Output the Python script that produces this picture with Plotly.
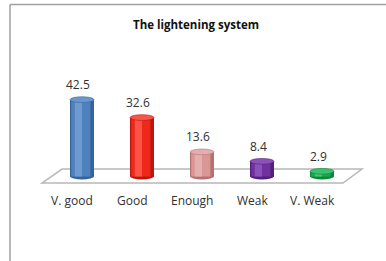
import plotly.graph_objects as go

categories = ["V. good", "Good", "Enough", "Weak", "V. Weak"]
values = [42.5, 32.6, 13.6, 8.4, 2.9]
title_text = "The lightening system"

main_colors = ["#4F81BD", "#F0281C", "#D99694", "#7030A0", "#1AAA4E"]
dark_colors = ["#36639A", "#B8180E", "#B27270", "#521F7A", "#0E863C"]
light_colors = ["#6E9AD0", "#FA5446", "#E4B0AF", "#8A52B8", "#40C474"]
top_colors = ["#6A96CE", "#F85448", "#E3AFAE", "#8A52B8", "#3CC070"]

W, H = 386, 261
L, R, T, B = 34, 16, 68, 70
xr = [-0.8, 4.8]
yr = [-8, 60]
pw, ph = W - L - R, H - T - B

def px_to_paper_x(px):
    return (px - L) / pw

def px_to_paper_y(py):
    return (H - B - py) / ph

fig = go.Figure()
idx = list(range(len(categories)))

# cylinder body: dark edge, main body, highlight
fig.add_trace(go.Bar(x=idx, y=values, width=0.4, marker=dict(color=dark_colors, line=dict(width=0)),
                     hoverinfo="skip", showlegend=False))
fig.add_trace(go.Bar(x=idx, y=values, width=0.32, offset=-0.18, marker=dict(color=main_colors, line=dict(width=0)),
                     hoverinfo="skip", showlegend=False))
fig.add_trace(go.Bar(x=idx, y=values, width=0.12, offset=-0.12, marker=dict(color=light_colors, line=dict(width=0)),
                     hoverinfo="skip", showlegend=False))

shapes = []
# frame (top and left lines only)
shapes.append(dict(type="line", xref="paper", yref="paper",
                   x0=px_to_paper_x(10), x1=px_to_paper_x(W + 2),
                   y0=px_to_paper_y(4.5), y1=px_to_paper_y(4.5),
                   line=dict(color="#A0A0A0", width=1.5)))
shapes.append(dict(type="line", xref="paper", yref="paper",
                   x0=px_to_paper_x(10), x1=px_to_paper_x(10),
                   y0=px_to_paper_y(4.5), y1=px_to_paper_y(H + 2),
                   line=dict(color="#A0A0A0", width=1.5)))
# floor
shapes.append(dict(type="path", xref="x", yref="y", layer="below",
                   path="M -0.667,-3.6 L -0.333,4.1 L 4.667,4.1 L 4.35,-3.6 Z",
                   fillcolor="#FFFFFF", line=dict(color="#B8B8B8", width=1.5)))
for i, v in enumerate(values):
    # bottom ellipse
    shapes.append(dict(type="circle", xref="x", yref="y", layer="below",
                       x0=i - 0.2, x1=i + 0.2, y0=-1.6, y1=1.6,
                       fillcolor=dark_colors[i], line=dict(width=0)))
    # top ellipse
    shapes.append(dict(type="circle", xref="x", yref="y", layer="above",
                       x0=i - 0.2, x1=i + 0.2, y0=v - 1.6, y1=v + 1.6,
                       fillcolor=top_colors[i], line=dict(color=dark_colors[i], width=0.6)))

annotations = []
for i, (c, v) in enumerate(zip(categories, values)):
    annotations.append(dict(x=i, y=v, xref="x", yref="y", text=f"{v:.1f}", showarrow=False,
                            yshift=15, xshift=-4,
                            font=dict(family="Open Sans, Noto Sans", size=12, color="#303030")))
    annotations.append(dict(x=i, y=0, xref="x", yref="y", text=c, showarrow=False,
                            yshift=-24, xshift=-10,
                            font=dict(family="Open Sans, Noto Sans", size=12, color="#303030")))

fig.update_layout(
    width=W, height=H,
    margin=dict(l=L, r=R, t=T, b=B),
    paper_bgcolor="white", plot_bgcolor="white",
    barmode="overlay",
    title=dict(text=f"<b>{title_text}</b>", x=px_to_paper_x(196), xref="paper", xanchor="center",
               y=1 - 25 / H, yref="container", yanchor="middle",
               font=dict(family="Open Sans, Noto Sans", size=11.5, color="#111111")),
    xaxis=dict(range=xr, showgrid=False, zeroline=False, showticklabels=False, showline=False, fixedrange=True),
    yaxis=dict(range=yr, showgrid=False, zeroline=False, showticklabels=False, showline=False, fixedrange=True),
    shapes=shapes,
    annotations=annotations,
    showlegend=False,
    hovermode=False,
)

fig.write_html("out.html", config={"displayModeBar": False},
               post_script="document.body.style.margin='0';document.body.style.overflow='hidden';")
